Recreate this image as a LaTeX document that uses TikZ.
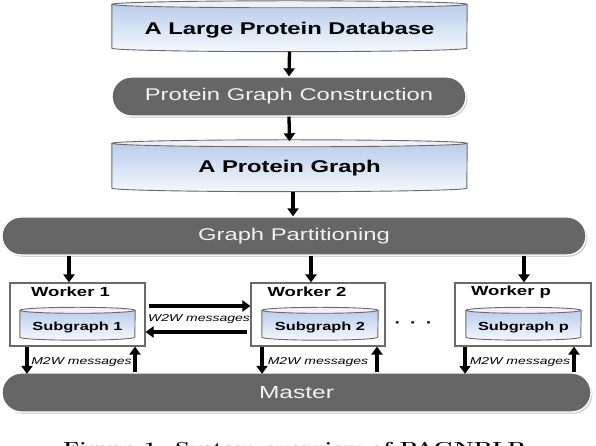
\documentclass[tikz,border=0pt]{standalone}
\usepackage{fontspec}
\newfontfamily\lsans[FakeStretch=1.4]{Liberation Sans}
\newfontfamily\capfont[FakeStretch=1.42]{Latin Modern Roman}
\usetikzlibrary{shapes.misc,shadows,arrows.meta,calc}
\pgfdeclarelayer{bg}
\pgfsetlayers{bg,main}
\definecolor{stad}{HTML}{666666}
\definecolor{stadtext}{HTML}{F2F2F2}
\definecolor{cylA}{HTML}{B9CDEB}
\definecolor{cylB}{HTML}{F5F8FC}
\definecolor{cylcap}{HTML}{EEF2F8}
\definecolor{cyledge}{HTML}{6A6A6A}
\definecolor{boxedge}{HTML}{6A6A6A}
\tikzset{
  stadium/.style={rounded rectangle, fill=stad, draw=white, line width=1.3pt,
    text=stadtext, inner sep=0pt,
    font=\lsans\fontsize{17}{20}\selectfont,
    drop shadow={opacity=0.35, shadow xshift=1.5pt, shadow yshift=-1.8pt}},
  bigcyl/.style={inner sep=0pt, font=\lsans\bfseries\fontsize{17}{20}\selectfont},
  smallcyl/.style={inner sep=0pt, font=\lsans\bfseries\fontsize{11.7}{14}\selectfont},
  worker/.style={draw=boxedge, line width=1.1pt, inner sep=0pt,
    minimum height=63pt},
  wlabel/.style={inner sep=0pt, font=\lsans\bfseries\fontsize{13.2}{15}\selectfont},
  msg/.style={inner sep=0pt, font=\lsans\itshape\fontsize{10}{12}\selectfont},
  arr/.style={line width=3.3pt, -{Triangle[width=11pt,length=8pt]}},
}
\newcommand\drawcyl[3]{%
  \path[top color=cylA, bottom color=cylB]
    (#1.north west) -- (#1.south west)
    arc[start angle=180, end angle=360, x radius=#2, y radius=#3]
    -- (#1.north east) -- cycle;
  \draw[cyledge, line width=0.9pt]
    (#1.north west) -- (#1.south west)
    arc[start angle=180, end angle=360, x radius=#2, y radius=#3]
    -- (#1.north east);
  \draw[cyledge, fill=cylcap, line width=0.9pt]
    (#1.north) ellipse[x radius=#2, y radius=#3];
}
\begin{document}
\begin{tikzpicture}[x=1pt, y=1pt]
\useasboundingbox (0,0) rectangle (596,446);

% top chain
\node[bigcyl, minimum width=355pt, minimum height=43.5pt] (db1) at (289.5,419.75)
  {\raisebox{-4pt}[\height][\depth]{A Large Protein Database}};
\node[stadium, minimum width=354pt, minimum height=39pt] (pgc) at (289,349.5)
  {Protein Graph Construction};
\node[bigcyl, minimum width=355pt, minimum height=44.5pt] (pg) at (289.5,280.25)
  {\raisebox{-2.5pt}[\height][\depth]{A Protein Graph}};
\node[stadium, minimum width=584pt, minimum height=38pt] (gp) at (294,210)
  {Graph Partitioning};

% workers
\node[worker, minimum width=135pt] (w1) at (77.5,131.5) {};
\node[worker, minimum width=134pt] (w2) at (318,131.5) {};
\node[worker, minimum width=136pt] (wp) at (523,131.5) {};
\node[wlabel] (w1l) at ($(w1.north)+(-7,-9.5)$) {Worker 1};
\node[wlabel] (w2l) at ($(w2.north)+(-11,-9.5)$) {Worker 2};
\node[wlabel] (wpl) at ($(wp.north)+(-12,-9.5)$) {Worker p};

\node[smallcyl, minimum width=115pt, minimum height=26.5pt] (sg1) at (77.5,122.25)
  {\raisebox{-4pt}[\height][\depth]{Subgraph 1}};
\node[smallcyl, minimum width=116pt, minimum height=26.5pt] (sg2) at (320,122.25)
  {\raisebox{-4pt}[\height][\depth]{Subgraph 2}};
\node[smallcyl, minimum width=115pt, minimum height=26.5pt] (sgp) at (523.5,122.25)
  {\raisebox{-4pt}[\height][\depth]{Subgraph p}};

\node[inner sep=0pt, font=\lsans\bfseries\fontsize{14}{16}\selectfont] (dots) at (413.5,121)
  {·\hspace{9pt}·\hspace{9pt}·};

\node[stadium, minimum width=589pt, minimum height=39pt] (ms) at (296.5,53.5)
  {\fontsize{17.5}{20}\selectfont Master};

% cylinders on background
\begin{pgfonlayer}{bg}
  \drawcyl{db1}{177.5}{3.5}
  \drawcyl{pg}{177.5}{3.5}
  \drawcyl{sg1}{57.5}{3}
  \drawcyl{sg2}{58}{3}
  \drawcyl{sgp}{57.5}{3}
\end{pgfonlayer}

% vertical chain arrows
\draw[arr] ([yshift=-3.5pt]db1.south) -- (pgc.north);
\draw[arr] (pgc.south) -- ([yshift=2pt]pg.north);
\coordinate (pgo) at ($(pg.south)+(3.5,-3.5)$);
\draw[arr] (pgo) -- (pgo |- gp.north);

% partition to workers
\coordinate (w1a) at ($(w1.north)+(-8.5,0)$);
\coordinate (w2a) at ($(w2.north)+(-7,0)$);
\coordinate (wpa) at ($(wp.north)+(1,0)$);
\draw[arr] (gp.south -| w1a) -- (w1a);
\draw[arr] (gp.south -| w2a) -- (w2a);
\draw[arr] (gp.south -| wpa) -- (wpa);

% worker to worker
\draw[arr] ([xshift=3pt,yshift=8.5pt]w1.east) -- ([yshift=8.5pt]w2.west);
\draw[arr] ([xshift=-3pt,yshift=-17.5pt]w2.west) -- ([yshift=-17.5pt]w1.east);
\node[msg] (w2w) at (199,127) {W2W messages};

% worker <-> master
\coordinate (d1) at ($(w1.south)+(-50.5,0)$);
\coordinate (u1) at ($(w1.south)+(57.5,0)$);
\coordinate (d2) at ($(w2.south)+(-56,0)$);
\coordinate (u2) at ($(w2.south)+(59,0)$);
\coordinate (dp) at ($(wp.south)+(-58,0)$);
\coordinate (up) at ($(wp.south)+(51,0)$);
\draw[arr] (d1) -- ([yshift=-1.5pt]d1 |- ms.north);
\draw[arr] (u1 |- ms.north) -- (u1);
\draw[arr] (d2) -- ([yshift=-1.5pt]d2 |- ms.north);
\draw[arr] (u2 |- ms.north) -- (u2);
\draw[arr] (dp) -- ([yshift=-1.5pt]dp |- ms.north);
\draw[arr] (up |- ms.north) -- (up);
\node[msg] (m1) at (81.5,84) {M2W messages};
\node[msg] (m2) at (318,84) {M2W messages};
\node[msg] (mp) at (520,84) {M2W messages};

% clipped caption (cut off at the lower edge, as in the reference)
\begin{scope}
  \clip (0,0) rectangle (596,446);
  \node[anchor=base west, inner sep=0pt, font=\capfont\bfseries\fontsize{16}{18}\selectfont]
    (cap) at (63,-7.5) {Figure 1: System overview of PAGNBLP};
\end{scope}
\end{tikzpicture}
\end{document}
